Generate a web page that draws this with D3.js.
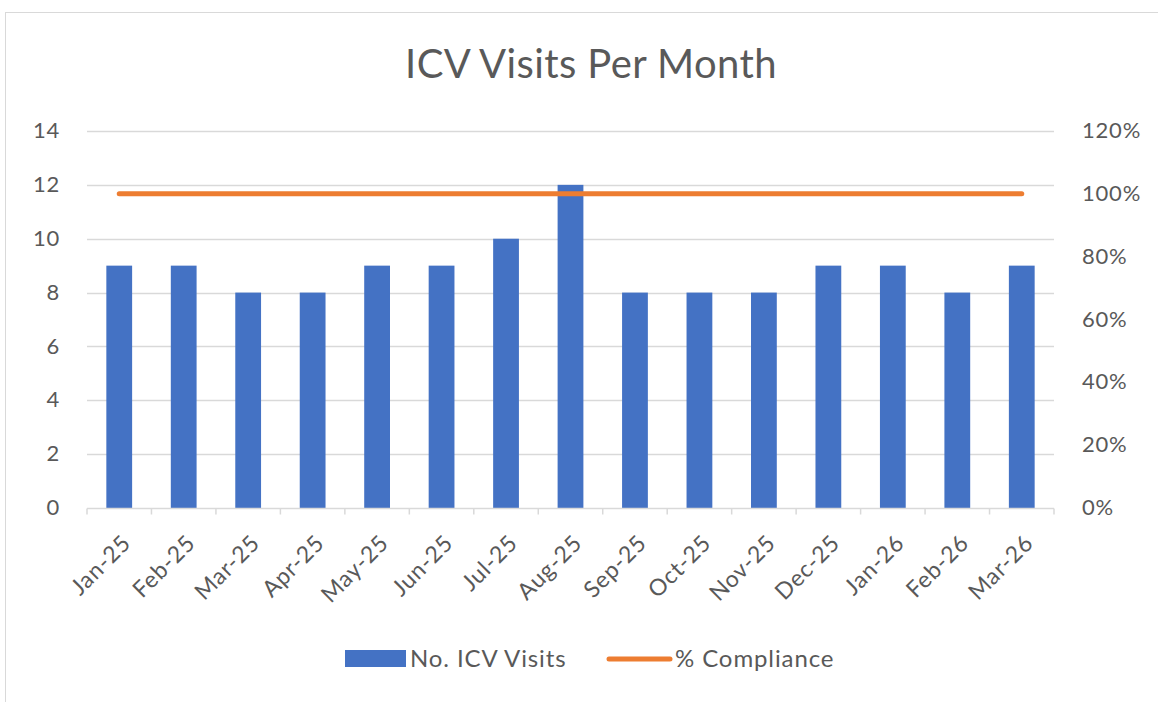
<!DOCTYPE html>
<html>
<head>
<meta charset="utf-8">
<script src="https://cdn.jsdelivr.net/npm/d3@7"></script>
<style>
  body { margin: 0; background: #fff; }
  svg { font-family: Lato, "Open Sans", sans-serif; }
</style>
</head>
<body>
<div id="chart"></div>
<script>
const months = ['Jan-25', 'Feb-25', 'Mar-25', 'Apr-25', 'May-25', 'Jun-25', 'Jul-25', 'Aug-25',
  'Sep-25', 'Oct-25', 'Nov-25', 'Dec-25', 'Jan-26', 'Feb-26', 'Mar-26'];
const visits = [9, 9, 8, 8, 9, 9, 10, 12, 8, 8, 8, 9, 9, 8, 9];
const compliance = [1, 1, 1, 1, 1, 1, 1, 1, 1, 1, 1, 1, 1, 1, 1];
const leftTicks = [0, 2, 4, 6, 8, 10, 12, 14];
const rightTicks = [0, 0.2, 0.4, 0.6, 0.8, 1.0, 1.2];

const width = 1158, height = 702;
const margin = { top: 131, right: 104, bottom: 194, left: 87 };
const textColor = '#595959';

const svg = d3.select('#chart').append('svg')
  .attr('width', width)
  .attr('height', height);

// chart area border
svg.append('rect')
  .attr('x', 5.5).attr('y', 12.5)
  .attr('width', width + 10).attr('height', height + 10)
  .attr('fill', 'none')
  .attr('stroke', '#d9d9d9');

const x = d3.scaleBand()
  .domain(months)
  .range([margin.left, width - margin.right]);

const y = d3.scaleLinear()
  .domain([0, 14])
  .range([height - margin.bottom, margin.top]);

const y2 = d3.scaleLinear()
  .domain([0, 1.2])
  .range([height - margin.bottom, margin.top]);

// title
svg.append('text')
  .attr('x', 591).attr('y', 78)
  .attr('text-anchor', 'middle')
  .attr('fill', textColor)
  .attr('font-size', 40)
  .attr('letter-spacing', 0.4)
  .text('ICV Visits Per Month');

// gridlines
svg.append('g')
  .selectAll('line')
  .data(leftTicks.slice(1))
  .enter().append('line')
  .attr('x1', margin.left).attr('x2', width - margin.right)
  .attr('y1', d => Math.round(y(d)) + 0.5).attr('y2', d => Math.round(y(d)) + 0.5)
  .attr('stroke', '#d9d9d9')
  .attr('stroke-width', 1.5);

// left axis
const yAxis = svg.append('g')
  .attr('transform', `translate(${margin.left - 27},0)`)
  .call(d3.axisLeft(y).tickValues(leftTicks).tickSize(0).tickPadding(0));
yAxis.select('.domain').remove();
yAxis.selectAll('text')
  .attr('fill', textColor)
  .attr('font-size', 22)
  .attr('letter-spacing', 0.8)
  .attr('font-family', 'Lato, sans-serif')
  .attr('dy', '0.3em');

// right axis
const y2Axis = svg.append('g')
  .attr('transform', `translate(${width - margin.right + 28},0)`)
  .call(d3.axisRight(y2).tickValues(rightTicks).tickSize(0).tickPadding(0).tickFormat(d3.format('.0%')));
y2Axis.select('.domain').remove();
y2Axis.selectAll('text')
  .attr('fill', textColor)
  .attr('font-size', 22)
  .attr('letter-spacing', 0.8)
  .attr('font-family', 'Lato, sans-serif')
  .attr('dy', '0.3em');

// bars
const barW = x.bandwidth() / 2.5;
svg.append('g')
  .selectAll('rect')
  .data(visits)
  .enter().append('rect')
  .attr('x', (d, i) => x(months[i]) + (x.bandwidth() - barW) / 2)
  .attr('y', d => y(d))
  .attr('width', barW)
  .attr('height', d => y(0) - y(d))
  .attr('fill', '#4472c4');

// x axis line and ticks
const axisY = height - margin.bottom + 0.5;
const xAxisG = svg.append('g');
xAxisG.append('line')
  .attr('x1', margin.left).attr('x2', width - margin.right)
  .attr('y1', axisY).attr('y2', axisY)
  .attr('stroke', '#d9d9d9').attr('stroke-width', 1.5);
xAxisG.selectAll('.tick')
  .data(months.concat(['end']))
  .enter().append('line')
  .attr('x1', (d, i) => margin.left + i * x.step())
  .attr('x2', (d, i) => margin.left + i * x.step())
  .attr('y1', axisY).attr('y2', axisY + 6)
  .attr('stroke', '#d9d9d9').attr('stroke-width', 1.5);

xAxisG.selectAll('text')
  .data(months)
  .enter().append('text')
  .attr('transform', d => `translate(${x(d) + x.bandwidth() / 2 + 13},${axisY + 36}) rotate(-45)`)
  .attr('text-anchor', 'end')
  .attr('fill', textColor)
  .attr('font-size', 23)
  .attr('letter-spacing', 0.8)
  .text(d => d);

// compliance line
const line = d3.line()
  .x((d, i) => x(months[i]) + x.bandwidth() / 2)
  .y(d => y2(d));
svg.append('path')
  .datum(compliance)
  .attr('d', line)
  .attr('fill', 'none')
  .attr('stroke', '#ed7d31')
  .attr('stroke-width', 5)
  .attr('stroke-linecap', 'round');

// legend
const legend = svg.append('g');
legend.append('rect')
  .attr('x', 345).attr('y', 650)
  .attr('width', 61).attr('height', 17)
  .attr('fill', '#4472c4');
legend.append('text')
  .attr('x', 410).attr('y', 667)
  .attr('fill', textColor)
  .attr('font-size', 24)
  .attr('letter-spacing', 0.9)
  .text('No. ICV Visits');
legend.append('line')
  .attr('x1', 609).attr('x2', 670)
  .attr('y1', 659).attr('y2', 659)
  .attr('stroke', '#ed7d31')
  .attr('stroke-width', 5)
  .attr('stroke-linecap', 'round');
legend.append('text')
  .attr('x', 675).attr('y', 667)
  .attr('fill', textColor)
  .attr('font-size', 24)
  .attr('letter-spacing', 0.9)
  .text('% Compliance');
</script>
</body>
</html>
